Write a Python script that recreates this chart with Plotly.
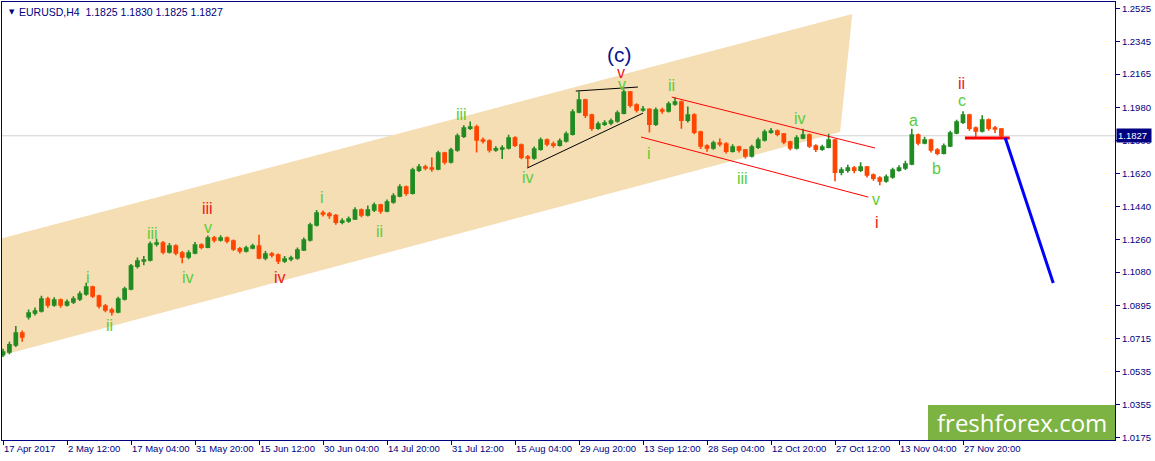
import plotly.graph_objects as go

# EURUSD H4, one candle per ~day of H4 bars
opens = [1.0628, 1.0642, 1.0681, 1.0746, 1.0835, 1.0856, 1.0867, 1.0933, 1.0900, 1.0927,
         1.0900, 1.0916, 1.0933, 1.0960, 1.0998, 1.0949, 1.0894, 1.0872, 1.0861, 1.0933,
         1.0987, 1.1113, 1.1141, 1.1146, 1.1234, 1.1239, 1.1190, 1.1223, 1.1185, 1.1163,
         1.1185, 1.1228, 1.1217, 1.1267, 1.1256, 1.1267, 1.1250, 1.1207, 1.1196, 1.1212,
         1.1223, 1.1157, 1.1179, 1.1174, 1.1141, 1.1152, 1.1157, 1.1201, 1.1256, 1.1338,
         1.1404, 1.1398, 1.1390, 1.1354, 1.1360, 1.1371, 1.1420, 1.1393, 1.1420, 1.1448,
         1.1415, 1.1464, 1.1497, 1.1546, 1.1513, 1.1639, 1.1656, 1.1650, 1.1645, 1.1732,
         1.1683, 1.1749, 1.1825, 1.1869, 1.1875, 1.1804, 1.1798, 1.1749, 1.1755, 1.1760,
         1.1815, 1.1776, 1.1710, 1.1705, 1.1754, 1.1804, 1.1782, 1.1776, 1.1798, 1.1836,
         1.1957, 1.2023, 1.1940, 1.1869, 1.1891, 1.1897, 1.1908, 1.1951, 1.2067, 1.1995,
         1.1968, 1.1972, 1.1891, 1.1968, 1.1963, 1.2001, 1.2012, 1.1913, 1.1940, 1.1847,
         1.1771, 1.1760, 1.1787, 1.1782, 1.1743, 1.1765, 1.1749, 1.1716, 1.1765, 1.1804,
         1.1847, 1.1853, 1.1836, 1.1793, 1.1760, 1.1815, 1.1831, 1.1771, 1.1754, 1.1765,
         1.1804, 1.1628, 1.1639, 1.1650, 1.1639, 1.1656, 1.1612, 1.1595, 1.1579, 1.1601,
         1.1639, 1.1650, 1.1672, 1.1831, 1.1787, 1.1804, 1.1749, 1.1732, 1.1771, 1.1842,
         1.1902, 1.1940, 1.1869, 1.1853, 1.1913, 1.1869, 1.1864]
highs = [1.0660, 1.0698, 1.0785, 1.0760, 1.0875, 1.0886, 1.0950, 1.0945, 1.0942, 1.0935,
         1.0930, 1.0948, 1.0975, 1.1022, 1.1005, 1.0956, 1.0905, 1.0885, 1.0945, 1.1000,
         1.1125, 1.1160, 1.1168, 1.1248, 1.1262, 1.1250, 1.1240, 1.1232, 1.1195, 1.1200,
         1.1245, 1.1238, 1.1280, 1.1278, 1.1282, 1.1275, 1.1258, 1.1218, 1.1225, 1.1235,
         1.1285, 1.1195, 1.1190, 1.1182, 1.1168, 1.1170, 1.1215, 1.1270, 1.1350, 1.1420,
         1.1418, 1.1410, 1.1398, 1.1375, 1.1385, 1.1435, 1.1428, 1.1445, 1.1462, 1.1455,
         1.1478, 1.1512, 1.1562, 1.1555, 1.1652, 1.1672, 1.1668, 1.1708, 1.1745, 1.1740,
         1.1762, 1.1840, 1.1885, 1.1905, 1.1888, 1.1818, 1.1808, 1.1770, 1.1775, 1.1832,
         1.1825, 1.1785, 1.1722, 1.1768, 1.1818, 1.1812, 1.1795, 1.1812, 1.1850, 1.1972,
         1.2070, 1.2030, 1.1948, 1.1905, 1.1912, 1.1922, 1.1965, 1.2080, 1.2072, 1.2005,
         1.1990, 1.1978, 1.1982, 1.1980, 1.2015, 1.2038, 1.2020, 1.1988, 1.1950, 1.1855,
         1.1780, 1.1800, 1.1812, 1.1792, 1.1780, 1.1772, 1.1755, 1.1778, 1.1818, 1.1862,
         1.1870, 1.1862, 1.1842, 1.1800, 1.1830, 1.1866, 1.1840, 1.1780, 1.1778, 1.1838,
         1.1810, 1.1655, 1.1668, 1.1662, 1.1682, 1.1662, 1.1620, 1.1605, 1.1615, 1.1652,
         1.1665, 1.1690, 1.1866, 1.1840, 1.1822, 1.1810, 1.1760, 1.1785, 1.1855, 1.1915,
         1.1961, 1.1948, 1.1878, 1.1940, 1.1922, 1.1880, 1.1870]
lows = [1.0615, 1.0630, 1.0670, 1.0698, 1.0820, 1.0842, 1.0858, 1.0885, 1.0890, 1.0884,
        1.0891, 1.0905, 1.0922, 1.0950, 1.0938, 1.0880, 1.0860, 1.0842, 1.0855, 1.0925,
        1.0980, 1.1100, 1.1118, 1.1138, 1.1220, 1.1178, 1.1182, 1.1172, 1.1128, 1.1150,
        1.1178, 1.1205, 1.1210, 1.1242, 1.1248, 1.1238, 1.1195, 1.1182, 1.1188, 1.1205,
        1.1150, 1.1145, 1.1160, 1.1125, 1.1130, 1.1140, 1.1148, 1.1195, 1.1248, 1.1330,
        1.1385, 1.1372, 1.1340, 1.1342, 1.1350, 1.1365, 1.1380, 1.1385, 1.1410, 1.1400,
        1.1408, 1.1455, 1.1490, 1.1498, 1.1505, 1.1628, 1.1638, 1.1630, 1.1638, 1.1670,
        1.1675, 1.1740, 1.1815, 1.1858, 1.1735, 1.1785, 1.1735, 1.1740, 1.1700, 1.1752,
        1.1765, 1.1698, 1.1655, 1.1695, 1.1745, 1.1770, 1.1762, 1.1768, 1.1790, 1.1828,
        1.1950, 1.1925, 1.1855, 1.1860, 1.1880, 1.1885, 1.1898, 1.1945, 1.1982, 1.1955,
        1.1958, 1.1845, 1.1880, 1.1948, 1.1955, 1.1992, 1.1865, 1.1900, 1.1835, 1.1755,
        1.1740, 1.1750, 1.1768, 1.1730, 1.1735, 1.1735, 1.1703, 1.1708, 1.1755, 1.1795,
        1.1838, 1.1825, 1.1780, 1.1748, 1.1752, 1.1808, 1.1760, 1.1738, 1.1745, 1.1758,
        1.1578, 1.1610, 1.1625, 1.1622, 1.1628, 1.1598, 1.1580, 1.1556, 1.1570, 1.1592,
        1.1630, 1.1640, 1.1665, 1.1775, 1.1780, 1.1735, 1.1720, 1.1725, 1.1765, 1.1835,
        1.1892, 1.1855, 1.1820, 1.1845, 1.1855, 1.1842, 1.1815]
closes = [1.0642, 1.0681, 1.0746, 1.0724, 1.0856, 1.0867, 1.0933, 1.0900, 1.0927, 1.0900,
          1.0916, 1.0933, 1.0960, 1.0998, 1.0949, 1.0894, 1.0872, 1.0861, 1.0933, 1.0987,
          1.1113, 1.1141, 1.1146, 1.1234, 1.1239, 1.1190, 1.1223, 1.1185, 1.1163, 1.1185,
          1.1228, 1.1217, 1.1267, 1.1256, 1.1267, 1.1250, 1.1207, 1.1196, 1.1212, 1.1223,
          1.1157, 1.1179, 1.1174, 1.1141, 1.1152, 1.1157, 1.1201, 1.1256, 1.1338, 1.1404,
          1.1398, 1.1390, 1.1354, 1.1360, 1.1371, 1.1420, 1.1393, 1.1420, 1.1448, 1.1415,
          1.1464, 1.1497, 1.1546, 1.1513, 1.1639, 1.1656, 1.1650, 1.1645, 1.1732, 1.1683,
          1.1749, 1.1825, 1.1869, 1.1875, 1.1804, 1.1798, 1.1749, 1.1755, 1.1760, 1.1815,
          1.1776, 1.1710, 1.1705, 1.1754, 1.1804, 1.1782, 1.1776, 1.1798, 1.1836, 1.1957,
          1.2023, 1.1940, 1.1869, 1.1891, 1.1897, 1.1908, 1.1951, 1.2067, 1.1995, 1.1968,
          1.1972, 1.1891, 1.1968, 1.1963, 1.2001, 1.2012, 1.1913, 1.1940, 1.1847, 1.1771,
          1.1760, 1.1787, 1.1782, 1.1743, 1.1765, 1.1749, 1.1716, 1.1765, 1.1804, 1.1847,
          1.1853, 1.1836, 1.1793, 1.1760, 1.1815, 1.1831, 1.1771, 1.1754, 1.1765, 1.1804,
          1.1628, 1.1639, 1.1650, 1.1639, 1.1656, 1.1612, 1.1595, 1.1579, 1.1601, 1.1639,
          1.1650, 1.1672, 1.1831, 1.1787, 1.1804, 1.1749, 1.1732, 1.1771, 1.1842, 1.1902,
          1.1940, 1.1869, 1.1853, 1.1913, 1.1869, 1.1864, 1.1827]

# time axis labels (every 10 candles)
tick_bars = [0, 10, 20, 30, 40, 50, 60, 70, 80, 90, 100, 110, 120, 130, 140, 150]
tick_text = ["17 Apr 2017", "2 May 12:00", "17 May 04:00", "31 May 20:00", "15 Jun 12:00",
             "30 Jun 04:00", "14 Jul 20:00", "31 Jul 12:00", "15 Aug 04:00", "29 Aug 20:00",
             "13 Sep 12:00", "28 Sep 04:00", "12 Oct 20:00", "27 Oct 12:00", "13 Nov 04:00",
             "27 Nov 20:00"]
price_ticks = [1.2525, 1.2345, 1.2165, 1.1980, 1.1800, 1.1620, 1.1440,
               1.1260, 1.1080, 1.0895, 1.0715, 1.0535, 1.0355, 1.0175]

# drawn objects (bar index, price)
channel_x = [-0.16, 130.8, 132.7, -0.16]
channel_y = [1.0624, 1.1847, 1.2494, 1.1265]
tri_upper_x = [89.5, 99.2]
tri_upper_y = [1.2072, 1.2094]
tri_lower_x = [81.9, 100.0]
tri_lower_y = [1.1650, 1.1951]
red_upper_x = [104.5, 136.25]
red_upper_y = [1.2039, 1.1760]
red_lower_x = [99.7, 135.2]
red_lower_y = [1.1820, 1.1491]
level_x = [150.3, 157.3]
level_y = [1.1815, 1.1815]
target_x = [156.6, 164.1]
target_y = [1.1815, 1.1020]

# wave counts
green_text = ["i", "ii", "iii", "iv", "v", "i", "ii", "iii", "iv", "v",
              "i", "ii", "iii", "iv", "v", "a", "b", "c"]
green_x = [13.3, 16.7, 23.3, 28.9, 32.0, 49.8, 58.9, 71.7, 82.0, 96.7,
           100.9, 104.5, 115.6, 124.5, 136.4, 142.2, 145.9, 149.8]
green_y = [1.1048, 1.0790, 1.1294, 1.1048, 1.1322, 1.1491, 1.1305, 1.1941, 1.1601, 1.2110,
           1.1732, 1.2105, 1.1595, 1.1919, 1.1480, 1.1908, 1.1650, 1.2023]
red_text = ["iii", "iv", "v", "i", "ii"]
red_x = [31.9, 43.3, 96.6, 136.6, 149.8]
red_y = [1.1431, 1.1048, 1.2176, 1.1354, 1.2116]
major_text = "(c)"
major_x = 96.4
major_y = 1.2275

x_range = [-0.16, 173.75]
y_range = [1.0160, 1.2560]
NAVY = '#000080'
FONT = 'Liberation Sans, Arial, sans-serif'

fig = go.Figure()

fig.add_trace(go.Candlestick(
    x=list(range(len(closes))), open=opens, high=highs, low=lows, close=closes,
    increasing=dict(line=dict(color='#228B22', width=1.6), fillcolor='#228B22'),
    decreasing=dict(line=dict(color='#FF4500', width=1.6), fillcolor='#FF4500'),
    whiskerwidth=0
))

for xs, ys, col, w in [(tri_upper_x, tri_upper_y, 'black', 1),
                       (tri_lower_x, tri_lower_y, 'black', 1),
                       (red_upper_x, red_upper_y, '#FF0000', 1),
                       (red_lower_x, red_lower_y, '#FF0000', 1),
                       (level_x, level_y, '#FF0000', 3),
                       (target_x, target_y, '#0000FF', 3)]:
    fig.add_trace(go.Scatter(x=xs, y=ys, mode='lines',
                             line=dict(color=col, width=w), hoverinfo='skip'))

# wide channel and the price line go under the candles
channel_path = 'M ' + ' L '.join('%s,%s' % (x, y) for x, y in zip(channel_x, channel_y)) + ' Z'
shapes = [
    dict(type='path', xref='x', yref='y', path=channel_path, fillcolor='#F5DEB3',
         line=dict(width=0), layer='below'),
    dict(type='line', xref='paper', yref='y', x0=0, x1=1, y0=closes[-1], y1=closes[-1],
         line=dict(color='#D3D3D3', width=1), layer='below'),
    dict(type='rect', xref='paper', yref='paper', x0=0.832, x1=1, y0=0, y1=0.08,
         fillcolor='#7CB342', line=dict(width=0), layer='above'),
]

annotations = []
for t, x, y in zip(green_text, green_x, green_y):
    annotations.append(dict(x=x, y=y, text=t, showarrow=False,
                            font=dict(family=FONT, size=16, color='#5ACD3A')))
for t, x, y in zip(red_text, red_x, red_y):
    annotations.append(dict(x=x, y=y, text=t, showarrow=False,
                            font=dict(family=FONT, size=16, color='#F01818')))
annotations.append(dict(x=major_x, y=major_y, text=major_text, showarrow=False,
                        font=dict(family=FONT, size=21, color='#0A1490')))

# time labels sit to the right of their tick, MT4 style
for b, t in zip(tick_bars, tick_text):
    annotations.append(dict(x=b, y=0, xref='x', yref='paper', text=t, showarrow=False,
                            xanchor='left', yanchor='top', xshift=-1, yshift=-1,
                            font=dict(family=FONT, size=9.5, color=NAVY)))

# header
annotations.append(dict(x=0, y=1, xref='paper', yref='paper', text='▼', showarrow=False,
                        xanchor='left', yanchor='top', xshift=5, yshift=-4,
                        font=dict(family='DejaVu Sans', size=7, color=NAVY)))
annotations.append(dict(x=0, y=1, xref='paper', yref='paper',
                        text='EURUSD,H4  1.1825 1.1830 1.1825 1.1827', showarrow=False,
                        xanchor='left', yanchor='top', xshift=15, yshift=-2,
                        font=dict(family=FONT, size=10.5, color=NAVY)))

# current price tag
annotations.append(dict(x=1, y=closes[-1], xref='paper', yref='y', text='1.1827 ',
                        showarrow=False, xanchor='left', yanchor='middle', xshift=1,
                        bgcolor=NAVY, borderpad=1,
                        font=dict(family=FONT, size=9.5, color='white')))

# watermark
annotations.append(dict(x=0.9164, y=0.041, xref='paper', yref='paper', text='freshforex.com',
                        showarrow=False, xanchor='center', yanchor='middle',
                        font=dict(family='Open Sans', size=24, color='white')))

fig.update_layout(
    width=1155, height=461,
    margin=dict(l=2, r=40, t=2, b=21),
    paper_bgcolor='white', plot_bgcolor='white',
    showlegend=False,
    annotations=annotations,
    shapes=shapes,
)
fig.update_xaxes(range=x_range, rangeslider_visible=False, showgrid=False, zeroline=False,
                 tickvals=tick_bars, ticks='outside', ticklen=4, tickcolor=NAVY,
                 showticklabels=False, showline=True, linecolor=NAVY, linewidth=1, mirror=True)
fig.update_yaxes(range=y_range, side='right', showgrid=False, zeroline=False,
                 tickvals=price_ticks, ticktext=['%.4f' % v for v in price_ticks],
                 ticks='outside', ticklen=4, tickcolor=NAVY,
                 tickfont=dict(family=FONT, size=9.5, color=NAVY),
                 showline=True, linecolor=NAVY, linewidth=1, mirror=True)

fig.write_html("out.html", config={'displayModeBar': False},
               post_script="document.body.style.margin='0px';")
